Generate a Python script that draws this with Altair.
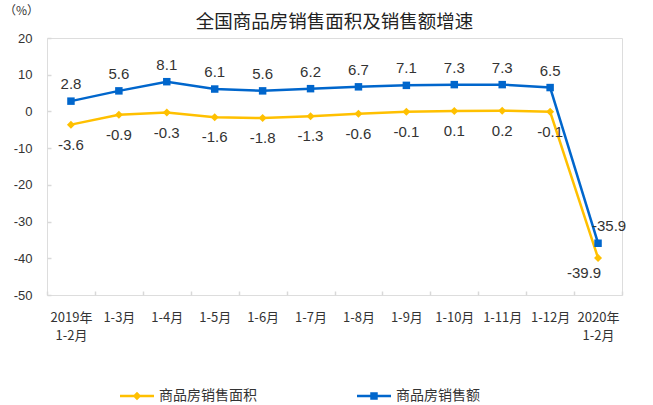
import altair as alt
import pandas as pd

categories = ["2019年|1-2月", "1-3月", "1-4月", "1-5月", "1-6月", "1-7月",
              "1-8月", "1-9月", "1-10月", "1-11月", "1-12月", "2020年|1-2月"]
area_growth = [-3.6, -0.9, -0.3, -1.6, -1.8, -1.3, -0.6, -0.1, 0.1, 0.2, -0.1, -39.9]
sales_growth = [2.8, 5.6, 8.1, 6.1, 5.6, 6.2, 6.7, 7.1, 7.3, 7.3, 6.5, -35.9]
series_names = ["商品房销售面积", "商品房销售额"]
colors = ["#FFC000", "#0066CC"]
y_ticks = [-50, -40, -30, -20, -10, 0, 10, 20]

rows = []
for i, c in enumerate(categories):
    rows.append({"cat": c, "idx": i, "series": series_names[0], "value": area_growth[i]})
    rows.append({"cat": c, "idx": i, "series": series_names[1], "value": sales_growth[i]})
df = pd.DataFrame(rows)
last = len(categories) - 1

FONT_NUM = "Liberation Sans"
FONT_CJK = "Noto Sans CJK SC"
GRAY = "#d9d9d9"
TXT = "#333333"

x = alt.X(
    "cat:N", sort=categories,
    scale=alt.Scale(type="band", paddingInner=0, paddingOuter=0),
    axis=alt.Axis(title=None,
                  labelExpr="isString(datum.value) ? split(datum.value, '|') : ''",
                  tickBand="extent",
                  offset=-4, domain=False, tickSize=4, tickColor=GRAY, tickWidth=1.5,
                  labelAngle=0, labelFont=FONT_CJK, labelFontSize=13, labelColor=TXT,
                  labelPadding=16, labelLineHeight=18, labelOverlap=False, grid=False),
)
y = alt.Y(
    "value:Q",
    scale=alt.Scale(domain=[-50, 20], nice=False, zero=False),
    axis=alt.Axis(values=y_ticks, labelExpr="toString(datum.value)",
                  title="（%）", titleAngle=0, titleX=-30, titleY=-28,
                  titleAlign="center", titleBaseline="middle", titleFont=FONT_CJK,
                  titleFontSize=12, titleFontWeight="normal", titleColor=TXT,
                  offset=-4, domain=False, tickSize=4, tickColor=GRAY, tickWidth=1.5,
                  labelFont=FONT_NUM, labelFontSize=13, labelColor=TXT,
                  labelPadding=15, labelFlush=False, grid=False),
)

base = alt.Chart(df)
shapes = ["diamond", "square"]
sizes = [64, 56]

layers = []
for s in range(2):
    sub = base.transform_filter(alt.datum.series == series_names[s])
    layers.append(sub.mark_line(strokeWidth=2.5, color=colors[s]).encode(
        x=x, y=y, order=alt.Order("idx:Q")))
for s in range(2):
    sub = base.transform_filter(alt.datum.series == series_names[s])
    layers.append(sub.mark_point(shape=shapes[s], filled=True, size=sizes[s], opacity=1,
                                 color=colors[s]).encode(x=x, y=y))

legend_paths = [
    "M-1,-0.07H1V0.07H-1Z M0,-0.25L0.25,0L0,0.25L-0.25,0Z",
    "M-1,-0.07H1V0.07H-1Z M-0.22,-0.22H0.22V0.22H-0.22Z",
]
leg = dict(title=None, orient="none", legendX=73, legendY=341, direction="horizontal",
           symbolSize=1156, symbolOpacity=1, symbolStrokeWidth=0,
           labelFont=FONT_CJK, labelFontSize=14, labelColor=TXT,
           labelOffset=5, columnPadding=100)
legend_layer = base.mark_point(filled=True, opacity=0).encode(
    x=x, y=y,
    color=alt.Color("series:N", scale=alt.Scale(domain=series_names, range=colors),
                    legend=alt.Legend(**leg)),
    shape=alt.Shape("series:N", scale=alt.Scale(domain=series_names, range=legend_paths),
                    legend=alt.Legend(**leg)),
)
layers.append(legend_layer)

txt_kw = dict(font=FONT_NUM, fontSize=15, color=TXT, baseline="middle", align="center")
lab = alt.Text("value:N")
layers.append(base.transform_filter(
    (alt.datum.series == series_names[1]) & (alt.datum.idx < last)
).mark_text(dy=-17, **txt_kw).encode(x=x, y=y, text=lab))
layers.append(base.transform_filter(
    (alt.datum.series == series_names[0]) & (alt.datum.idx < last)
).mark_text(dy=20, **txt_kw).encode(x=x, y=y, text=lab))
layers.append(base.transform_filter(
    (alt.datum.series == series_names[1]) & (alt.datum.idx == last)
).mark_text(dy=-17, dx=11, **txt_kw).encode(x=x, y=y, text=lab))
layers.append(base.transform_filter(
    (alt.datum.series == series_names[0]) & (alt.datum.idx == last)
).mark_text(dy=15, dx=-14, **txt_kw).encode(x=x, y=y, text=lab))

chart = alt.layer(*layers).properties(
    width=575, height=257,
    autosize=alt.AutoSizeParams(type="none"),
    padding={"left": 47, "top": 38, "right": 31, "bottom": 110},
    title=alt.TitleParams("全国商品房销售面积及销售额增速", font=FONT_CJK, fontSize=18.5,
                          fontWeight="normal", color="#222222", anchor="middle",
                          offset=8, dy=35),
).configure_view(
    stroke=GRAY, strokeWidth=1.5
).configure(background="white")

chart.save("out.html", embed_options={"renderer": "svg", "actions": False})
